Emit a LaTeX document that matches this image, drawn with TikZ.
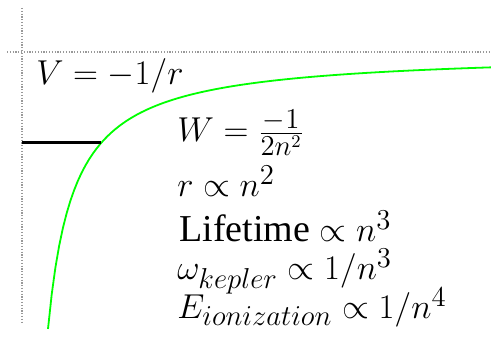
\documentclass[tikz,border=0pt]{standalone}
\usepackage{amsmath}
\usepackage[no-math]{fontspec}
\setmainfont{Liberation Serif}
\usepackage{tikz}
\usetikzlibrary{calc}
\tikzset{
  axisline/.style={draw=gray!80, line width=0.6pt, dash pattern=on 0.6pt off 0.8pt},
  potential/.style={draw=green, line width=0.9pt},
  level/.style={draw=black, line width=1.5pt},
  label/.style={anchor=base west, inner sep=0pt, font=\fontsize{19}{23}\selectfont}
}

\begin{document}
\begin{tikzpicture}[x=0.5pt,y=0.5pt]
  \useasboundingbox (0,0) rectangle (491,341);

  % axes (V = 0 and r = 0)
  \coordinate (top) at (22,333);
  \coordinate (bottom) at (22,19);
  \coordinate (left) at (7,289);
  \coordinate (right) at (491,289);
  \draw[axisline] (top) -- (bottom);
  \draw[axisline] (left) -- (right);

  % potential curve and bound level
  \draw[potential] plot[domain=48:491, samples=120] (\x, {289 - 7200/(\x-22)});
  \coordinate (axislevel) at (22,198);
  \coordinate (crossing) at (101.1,198);
  \draw[level] (axislevel) -- (crossing);

  \node[label] (pot) at (36,256) {$V = -1/r$};
  \node[label] (energy) at (177,199) {$W = \frac{-1}{2n^2}$};
  \node[label] (radius) at (177,144) {$r \propto n^2$};
  \node[label] (life) at (179,99) {Lifetime $\propto n^3$};
  \node[label] (kepler) at (177,61) {$\omega_{kepler} \propto 1/n^3$};
  \node[label] (ion) at (177,22) {$E_{ionization} \propto 1/n^4$};
\end{tikzpicture}
\end{document}
